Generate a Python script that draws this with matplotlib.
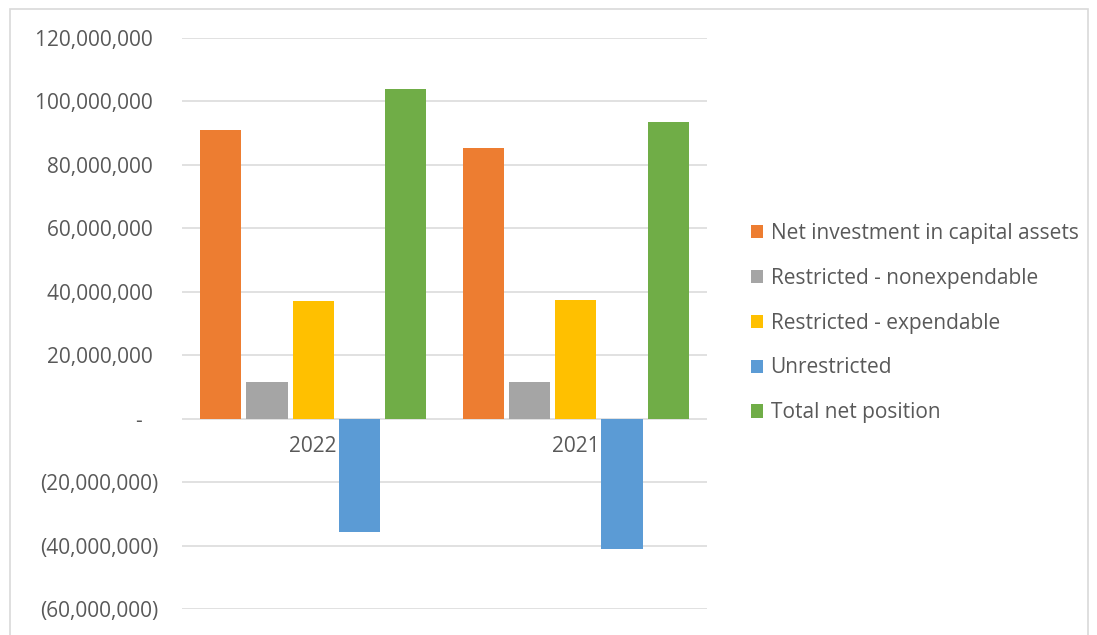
import matplotlib.pyplot as plt
import matplotlib.patches as mpatches
from matplotlib.ticker import FuncFormatter, MultipleLocator
import numpy as np

# Data
years = ["2022", "2021"]
series_names = [
    "Net investment in capital assets",
    "Restricted - nonexpendable",
    "Restricted - expendable",
    "Unrestricted",
    "Total net position",
]
net_investment = [90_900_000, 85_200_000]
restricted_nonexp = [11_700_000, 11_700_000]
restricted_exp = [37_000_000, 37_300_000]
unrestricted = [-35_800_000, -41_100_000]
total_net = [104_000_000, 93_400_000]
colors = ["#ED7D31", "#A5A5A5", "#FFC000", "#5B9BD5", "#70AD47"]

values = [net_investment, restricted_nonexp, restricted_exp, unrestricted, total_net]

plt.rcParams['font.family'] = ['Open Sans', 'DejaVu Sans']
text_color = '#595959'

fig = plt.figure(figsize=(10.97, 6.35), dpi=100)
ax = fig.add_axes([182 / 1097, 1 - 609 / 635, (707 - 182) / 1097, (609 - 38) / 635])

# outer chart border
fig.patches.append(mpatches.Rectangle(
    (10 / 1097, -0.05), (1088 - 10) / 1097, 1.05 - 9 / 635,
    transform=fig.transFigure, fill=False, edgecolor='#d9d9d9', linewidth=1.2))

x = np.arange(len(years))
slot = 0.176
bar_w = 0.157
for i, (name, vals) in enumerate(zip(series_names, values)):
    ax.bar(x + (i - 2) * slot, vals, width=bar_w, color=colors[i], label=name, zorder=3)

ax.set_xlim(-0.5, 1.5)
ax.set_ylim(-60_000_000, 120_000_000)
ax.yaxis.set_major_locator(MultipleLocator(20_000_000))


def acct(v, pos):
    if abs(v) < 1:
        return "-   "
    if v < 0:
        return f"({abs(v):,.0f})"
    return f"{v:,.0f} "


ax.yaxis.set_major_formatter(FuncFormatter(acct))
ax.tick_params(axis='y', length=0, pad=17, labelsize=15, labelcolor=text_color)
ax.set_xticks([])
ax.grid(axis='y', color='#d9d9d9', linewidth=1.1, zorder=0)
for s in ax.spines.values():
    s.set_visible(False)

# category labels sit just under the zero line
for xi, yr in zip(x, years):
    ax.text(xi, -5_500_000, yr, ha='center', va='top', fontsize=15, color=text_color, zorder=2)

handles = [mpatches.Patch(facecolor=c, label=n) for c, n in zip(colors, series_names)]
fig.legend(handles=handles, loc='center left', bbox_to_anchor=(732 / 1097, 1 - 323 / 635),
           frameon=False, fontsize=15, labelcolor=text_color, handlelength=0.6,
           handleheight=0.6, handletextpad=0.35, labelspacing=1.15)

fig.savefig("out.png", dpi=100, facecolor='white')
